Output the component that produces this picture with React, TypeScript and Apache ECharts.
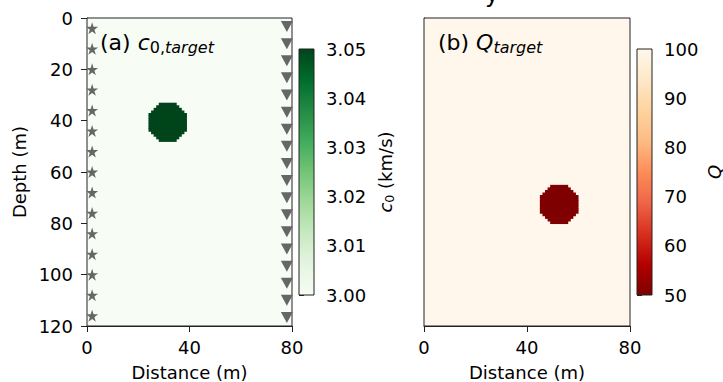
import React, { useEffect, useRef } from 'react';
import * as echarts from 'echarts';

// ---- data ----
const distanceRange = [0, 80];
const depthRange = [0, 120];
const distanceTickStep = 40;
const depthTickStep = 20;

const sourceX = 2;
const sourceDepths = [4, 12, 20, 28, 36, 44, 52, 60, 68, 76, 84, 92, 100, 108, 116];
const receiverX = 78;
const receiverDepths = [3.3, 10, 16.7, 23.3, 30, 36.7, 43.3, 50, 56.7, 63.3, 70, 76.7, 83.3, 90, 96.7, 103.3, 110, 116.7];

const c0Background = 3.0;
const c0Anomaly = 3.05;
const c0Center = [31.5, 40.5];
const c0Radius = 7.7;
const c0Range = [3.0, 3.05];
const c0Step = 0.01;

const qBackground = 100;
const qAnomaly = 50;
const qCenter = [52.5, 72.5];
const qRadius = 7.7;
const qRange = [50, 100];
const qStep = 10;

const greens = ['#f7fcf5', '#e5f5e0', '#c7e9c0', '#a1d99b', '#74c476', '#41ab5d', '#238b45', '#006d2c', '#00441b'];
const orRdRev = ['#7f0000', '#b30000', '#d7301f', '#ef6548', '#fc8d59', '#fdbb84', '#fdd49e', '#fee8c8', '#fff7ec'];

const FONT = 'DejaVu Sans';
const INK = '#000';
const SPINE = '#222';
const MARK = '#666666';

const STAR = 'path://M0,-100L22.45,-30.9L95.11,-30.9L36.33,11.8L58.78,80.9L0,38.2L-58.78,80.9L-36.33,11.8L-95.11,-30.9L-22.45,-30.9Z';

// model as rectangles [x0, x1, z0, z1, value]: background + anomaly rows on a 1 m grid
function buildModel(bg: number, val: number, center: number[], r: number) {
  const rows: number[][] = [[distanceRange[0], distanceRange[1], depthRange[0], depthRange[1], bg]];
  for (let j = depthRange[0]; j < depthRange[1]; j++) {
    let lo = Infinity, hi = -Infinity;
    for (let i = distanceRange[0]; i < distanceRange[1]; i++) {
      const dx = i + 0.5 - center[0];
      const dz = j + 0.5 - center[1];
      if (dx * dx + dz * dz <= r * r) {
        lo = Math.min(lo, i);
        hi = Math.max(hi, i);
      }
    }
    if (lo <= hi) rows.push([lo, hi + 1, j, j + 1, val]);
  }
  return rows;
}

const c0Model = buildModel(c0Background, c0Anomaly, c0Center, c0Radius);
const qModel = buildModel(qBackground, qAnomaly, qCenter, qRadius);

function cellRenderer(colors: string[], range: number[]) {
  return (params: any, api: any) => {
    const p0 = api.coord([api.value(0), api.value(2)]);
    const p1 = api.coord([api.value(1), api.value(3)]);
    const v = api.value(4);
    const color = echarts.color.lerp((v - range[0]) / (range[1] - range[0]), colors) as string;
    const isBg = params.dataIndex === 0;
    const x = Math.min(p0[0], p1[0]);
    const y = Math.min(p0[1], p1[1]);
    const w = Math.abs(p1[0] - p0[0]);
    const h = Math.abs(p1[1] - p0[1]);
    return {
      type: 'rect',
      shape: { x, y, width: w, height: isBg ? h : h + 0.7 },
      style: isBg ? { fill: color, stroke: SPINE, lineWidth: 1 } : { fill: color },
    };
  };
}

function colorbarRenderer(colors: string[]) {
  return (params: any, api: any) => {
    const p0 = api.coord([0, api.value(1)]);
    const p1 = api.coord([1, api.value(3)]);
    const stops = colors.map((c, i) => ({ offset: i / (colors.length - 1), color: c }));
    return {
      type: 'rect',
      shape: {
        x: Math.min(p0[0], p1[0]),
        y: Math.min(p0[1], p1[1]),
        width: Math.abs(p1[0] - p0[0]),
        height: Math.abs(p1[1] - p0[1]),
      },
      style: {
        fill: new echarts.graphic.LinearGradient(0, 1, 0, 0, stops),
        stroke: SPINE,
        lineWidth: 1,
      },
    };
  };
}

const tickLabel = { fontFamily: FONT, fontSize: 18, color: INK };

function panelX(gridIndex: number) {
  return {
    type: 'value', gridIndex,
    min: distanceRange[0], max: distanceRange[1], interval: distanceTickStep,
    axisLine: { show: true, onZero: false, lineStyle: { color: SPINE, width: 1 } },
    axisTick: { show: true, inside: false, length: 6, lineStyle: { color: SPINE } },
    axisLabel: { ...tickLabel, margin: 12, showMinLabel: true, showMaxLabel: true },
    splitLine: { show: false },
    name: 'Distance (m)', nameLocation: 'middle', nameGap: 37,
    nameTextStyle: { fontFamily: FONT, fontSize: 18, color: INK },
  };
}

export default function App() {
  const ref = useRef<HTMLDivElement>(null);
  useEffect(() => {
    if (!ref.current) return;
    const chart = echarts.init(ref.current, undefined, { renderer: 'svg' });
    const option: any = {
      animation: false,
      backgroundColor: '#fff',
      grid: [
        { left: 87, top: 18, width: 205, height: 308, outerBoundsMode: 'none', containLabel: false },
        { left: 424, top: 18, width: 206, height: 308, outerBoundsMode: 'none', containLabel: false },
        { left: 299, top: 49, width: 15, height: 246, outerBoundsMode: 'none', containLabel: false },
        { left: 637, top: 49, width: 15, height: 246, outerBoundsMode: 'none', containLabel: false },
      ],
      xAxis: [
        panelX(0),
        panelX(1),
        { type: 'value', gridIndex: 2, min: 0, max: 1, show: false },
        { type: 'value', gridIndex: 3, min: 0, max: 1, show: false },
      ],
      yAxis: [
        {
          type: 'value', gridIndex: 0, inverse: true,
          min: depthRange[0], max: depthRange[1], interval: depthTickStep,
          axisLine: { show: true, onZero: false, lineStyle: { color: SPINE, width: 1 } },
          axisTick: { show: true, inside: false, length: 6, lineStyle: { color: SPINE } },
          axisLabel: { ...tickLabel, margin: 14, showMinLabel: true, showMaxLabel: true },
          splitLine: { show: false },
          name: 'Depth (m)', nameLocation: 'middle', nameGap: 59, nameRotate: 90,
          nameTextStyle: { fontFamily: FONT, fontSize: 18, color: INK },
        },
        {
          type: 'value', gridIndex: 1, inverse: true,
          min: depthRange[0], max: depthRange[1], interval: depthTickStep,
          axisLine: { show: true, onZero: false, lineStyle: { color: SPINE, width: 1 } },
          axisTick: { show: false },
          axisLabel: { show: false },
          splitLine: { show: false },
        },
        {
          type: 'value', gridIndex: 2, position: 'right',
          min: c0Range[0], max: c0Range[1], interval: c0Step,
          axisLine: { show: false },
          axisTick: { show: true, inside: false, length: 5, lineStyle: { color: SPINE } },
          axisLabel: { ...tickLabel, margin: 12, showMinLabel: true, showMaxLabel: true, formatter: (v: number) => v.toFixed(2) },
          splitLine: { show: false },
        },
        {
          type: 'value', gridIndex: 3, position: 'right',
          min: qRange[0], max: qRange[1], interval: qStep,
          axisLine: { show: false },
          axisTick: { show: true, inside: false, length: 5, lineStyle: { color: SPINE } },
          axisLabel: { ...tickLabel, margin: 12, showMinLabel: true, showMaxLabel: true },
          splitLine: { show: false },
        },
      ],
      series: [
        {
          type: 'custom', xAxisIndex: 0, yAxisIndex: 0, z: 1,
          renderItem: cellRenderer(greens, c0Range),
          data: c0Model, silent: true,
        },
        {
          type: 'custom', xAxisIndex: 1, yAxisIndex: 1, z: 1,
          renderItem: cellRenderer(orRdRev, qRange),
          data: qModel, silent: true,
        },
        {
          type: 'custom', xAxisIndex: 2, yAxisIndex: 2,
          renderItem: colorbarRenderer(greens),
          data: [[0, c0Range[0], 1, c0Range[1]]], silent: true,
        },
        {
          type: 'custom', xAxisIndex: 3, yAxisIndex: 3,
          renderItem: colorbarRenderer(orRdRev),
          data: [[0, qRange[0], 1, qRange[1]]], silent: true,
        },
        {
          type: 'scatter', xAxisIndex: 0, yAxisIndex: 0, z: 3,
          symbol: STAR, symbolSize: 12, clip: false,
          itemStyle: { color: MARK, opacity: 1 },
          data: sourceDepths.map((d) => [sourceX, d]),
        },
        {
          type: 'scatter', xAxisIndex: 0, yAxisIndex: 0, z: 3,
          symbol: 'triangle', symbolRotate: 180, symbolSize: [12, 11], clip: false,
          itemStyle: { color: MARK, opacity: 1 },
          data: receiverDepths.map((d) => [receiverX, d]),
        },
      ],
      graphic: [
        {
          type: 'text', x: 100, y: 42, z: 10,
          style: {
            text: '{n|(a) }{i|c}{s|0,}{si|target}',
            verticalAlign: 'middle', align: 'left',
            rich: {
              n: { fontFamily: FONT, fontSize: 22, color: INK, lineHeight: 26 },
              i: { fontFamily: FONT, fontSize: 22, fontStyle: 'italic', color: INK, lineHeight: 26 },
              s: { fontFamily: FONT, fontSize: 16, color: INK, lineHeight: 18, verticalAlign: 'bottom' },
              si: { fontFamily: FONT, fontSize: 16, fontStyle: 'italic', color: INK, lineHeight: 18, verticalAlign: 'bottom' },
            },
          },
        },
        {
          type: 'text', x: 438, y: 42, z: 10,
          style: {
            text: '{n|(b) }{i|Q}{si|target}',
            verticalAlign: 'middle', align: 'left',
            rich: {
              n: { fontFamily: FONT, fontSize: 22, color: INK, lineHeight: 26 },
              i: { fontFamily: FONT, fontSize: 22, fontStyle: 'italic', color: INK, lineHeight: 26 },
              si: { fontFamily: FONT, fontSize: 16, fontStyle: 'italic', color: INK, lineHeight: 18, verticalAlign: 'bottom' },
            },
          },
        },
        {
          type: 'text', x: 385, y: 172, rotation: Math.PI / 2, z: 10,
          style: {
            text: '{i|c}{s|0}{n| (km/s)}',
            verticalAlign: 'middle', align: 'center',
            rich: {
              n: { fontFamily: FONT, fontSize: 18, color: INK, lineHeight: 22 },
              i: { fontFamily: FONT, fontSize: 18, fontStyle: 'italic', color: INK, lineHeight: 22 },
              s: { fontFamily: FONT, fontSize: 12.6, color: INK, lineHeight: 14, verticalAlign: 'bottom' },
            },
          },
        },
        {
          type: 'text', x: 714, y: 172, rotation: Math.PI / 2, z: 10,
          style: {
            text: 'Q', fontFamily: FONT, fontSize: 18, fontStyle: 'italic', fill: INK,
            verticalAlign: 'middle', align: 'center',
          },
        },
        {
          type: 'text', x: 492, y: 6, z: 10,
          style: {
            text: 'y', fontFamily: FONT, fontSize: 24, fill: INK,
            verticalAlign: 'bottom', align: 'center',
          },
        },
      ],
    };
    chart.setOption(option);
    return () => chart.dispose();
  }, []);
  return (
    <div
      ref={ref}
      style={{ position: 'fixed', left: 0, top: 0, width: 723, height: 382, background: '#fff' }}
    />
  );
}
